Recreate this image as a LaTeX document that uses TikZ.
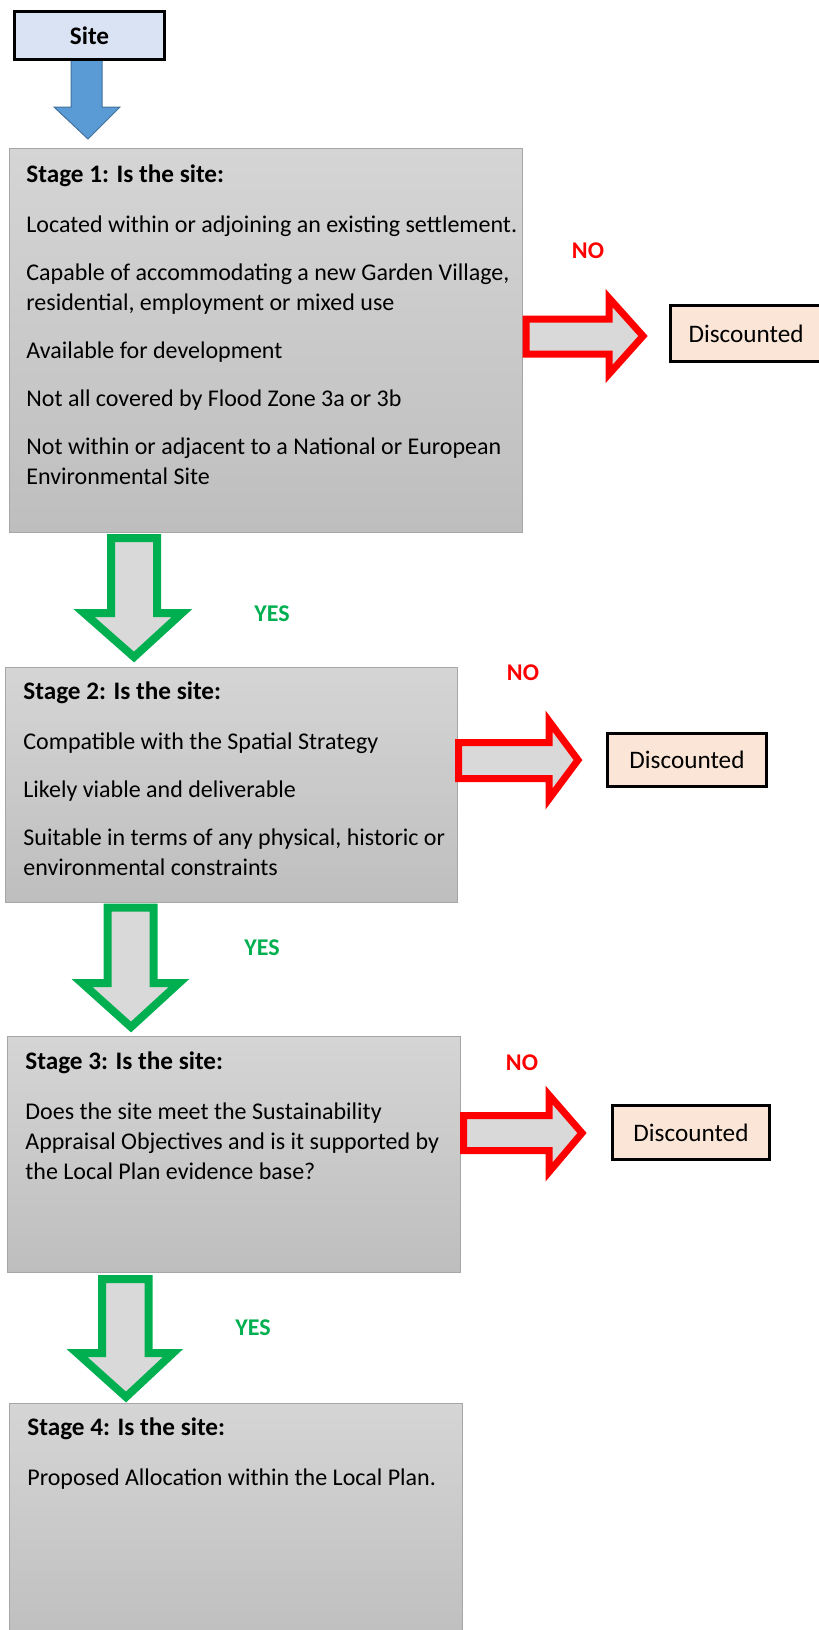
\documentclass[tikz,border=0pt]{standalone}
\usepackage{fontspec}
\setmainfont{Carlito}
\definecolor{siteblue}{HTML}{DAE3F3}
\definecolor{arrowblue}{HTML}{5B9BD5}
\definecolor{arrowblueline}{HTML}{41719C}
\definecolor{stagetop}{HTML}{D5D5D5}
\definecolor{stagebottom}{HTML}{BEBEBE}
\definecolor{stageline}{HTML}{A6A6A6}
\definecolor{peach}{HTML}{FBE5D6}
\definecolor{nored}{HTML}{FF0000}
\definecolor{yesgreen}{HTML}{00B050}
\definecolor{shaftgrey}{HTML}{D9D9D9}
\newcommand{\stagetitle}[1]{{\fontsize{12.6}{15}\selectfont\bfseries #1}}

\begin{document}
\begin{tikzpicture}[x=0.5pt,y=-0.5pt,
  stagebox/.style={draw=stageline,line width=0.5pt,top color=stagetop,bottom color=stagebottom,inner sep=0pt},
  stagetext/.style={anchor=base west,align=left,inner sep=0pt,font=\fontsize{12}{15}\selectfont},
  outbox/.style={draw=black,line width=1.5pt,fill=peach,inner sep=0pt,font=\fontsize{12.6}{14}\selectfont},
  noarrow/.style={draw=nored,line width=3.5pt,fill=shaftgrey,miter limit=10},
  yesarrow/.style={draw=yesgreen,line width=4pt,fill=shaftgrey,miter limit=10},
  nolabel/.style={text=nored,font=\fontsize{12}{13}\selectfont\bfseries},
  yeslabel/.style={text=yesgreen,font=\fontsize{12}{13}\selectfont\bfseries}]
  \useasboundingbox (0,0) rectangle (819,1630);
  \clip (0,0) rectangle (819,1630);
  % start
  \draw[fill=arrowblue,draw=arrowblueline,line width=0.5pt] (71,58) -- (102,58) -- (102,107) -- (120,107) -- (88,139) -- (54,107) -- (71,107) -- cycle;
  \node[draw=black,line width=1.5pt,fill=siteblue,minimum width=75pt,minimum height=24pt,font=\fontsize{12.6}{14}\selectfont\bfseries] (site) at (89.5,35.5) {Site};
  % stage boxes (text placed by its last line)
  \node[stagebox,minimum width=256.5pt,minimum height=192pt] (stage1) at (265.5,340) {};
  \node[stagebox,minimum width=226pt,minimum height=117.5pt] (stage2) at (231,784.5) {};
  \node[stagebox,minimum width=226.5pt,minimum height=118pt] (stage3) at (233.5,1154) {};
  \node[stagebox,minimum width=226.5pt,minimum height=123.5pt] (stage4) at (235.5,1526.5) {};
  \node[stagetext] (s1text) at (26,484) {\stagetitle{Stage 1: Is the site:}\\[10pt]
    Located within or adjoining an existing settlement.\\[9pt]
    Capable of accommodating a new Garden Village,\\
    residential, employment or mixed use\\[9pt]
    Available for development\\[9pt]
    Not all covered by Flood Zone 3a or 3b\\[9pt]
    Not within or adjacent to a National or European\\
    Environmental Site};
  \node[stagetext] (s2text) at (23,875) {\stagetitle{Stage 2: Is the site:}\\[10pt]
    Compatible with the Spatial Strategy\\[9pt]
    Likely viable and deliverable\\[9pt]
    Suitable in terms of any physical, historic or\\
    environmental constraints};
  \node[stagetext] (s3text) at (25,1179) {\stagetitle{Stage 3: Is the site:}\\[10pt]
    Does the site meet the Sustainability\\
    Appraisal Objectives and is it supported by\\
    the Local Plan evidence base?};
  \node[stagetext] (s4text) at (27,1485) {\stagetitle{Stage 4: Is the site:}\\[10pt]
    Proposed Allocation within the Local Plan.};
  % no arrows
  \draw[noarrow] (526,319) -- (609,319) -- (609,298) -- (643,336) -- (609,374) -- (609,354) -- (526,354) -- cycle;
  \draw[noarrow] (458.5,742.5) -- (549,742.5) -- (549,721) -- (578,760) -- (549,799) -- (549,778.5) -- (458.5,778.5) -- cycle;
  \draw[noarrow] (463.5,1115.5) -- (549,1115.5) -- (549,1095) -- (582,1133) -- (549,1172) -- (549,1150.5) -- (463.5,1150.5) -- cycle;
  \node[nolabel] (no1) at (588,251) {NO};
  \node[nolabel] (no2) at (523,673) {NO};
  \node[nolabel] (no3) at (522,1063) {NO};
  \node[outbox,anchor=west,minimum width=80.75pt,minimum height=28pt,text width=62.25pt,inner xsep=9.25pt,align=left] (out1) at (668.5,333.5) {Discounted};
  \node[outbox,minimum width=79.5pt,minimum height=26.5pt] (out2) at (687,760) {Discounted};
  \node[outbox,minimum width=78.5pt,minimum height=27pt] (out3) at (691,1132.5) {Discounted};
  % yes arrows
  \draw[yesarrow] (111,538) -- (157,538) -- (157,613) -- (182,613) -- (134,657) -- (84,613) -- (111,613) -- cycle;
  \draw[yesarrow] (107.5,907.5) -- (153.5,907.5) -- (153.5,983) -- (179,983) -- (131,1027) -- (82,983) -- (107.5,983) -- cycle;
  \draw[yesarrow] (102,1279) -- (148.5,1279) -- (148.5,1353) -- (173,1353) -- (126,1397) -- (77,1353) -- (102,1353) -- cycle;
  \node[yeslabel] (yes1) at (272,614) {YES};
  \node[yeslabel] (yes2) at (262,948) {YES};
  \node[yeslabel] (yes3) at (253,1328) {YES};
\end{tikzpicture}
\end{document}
